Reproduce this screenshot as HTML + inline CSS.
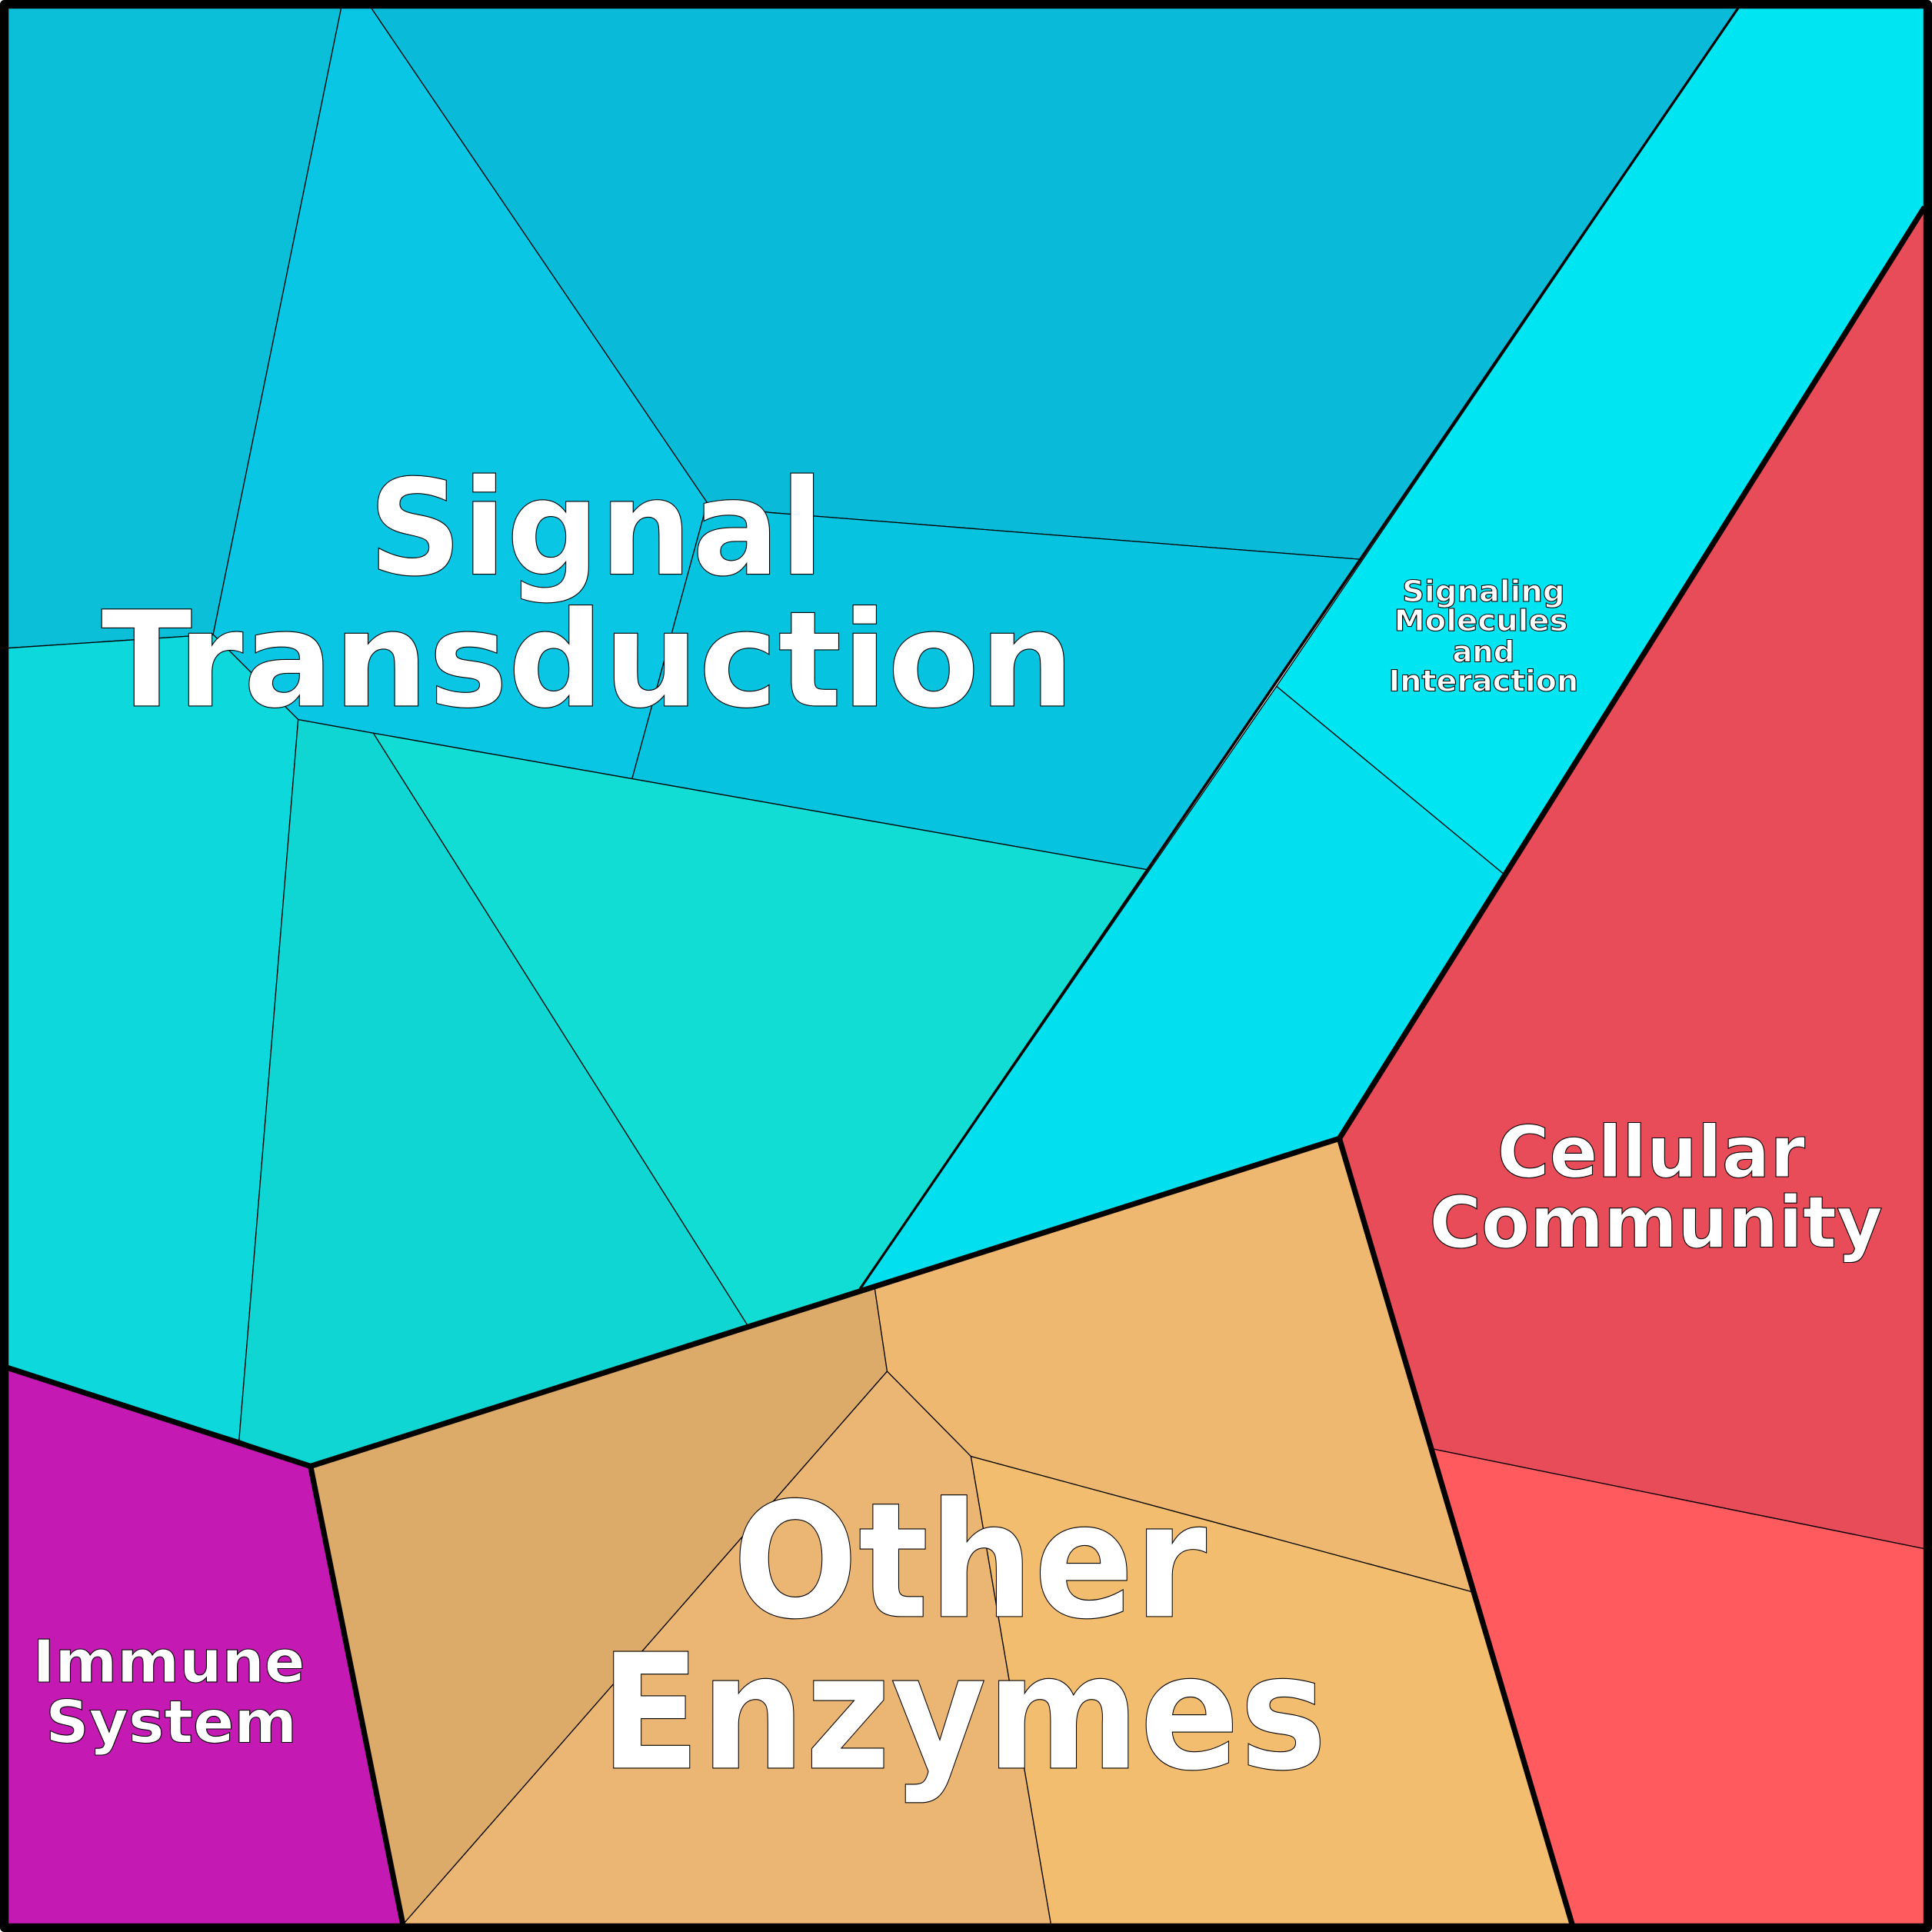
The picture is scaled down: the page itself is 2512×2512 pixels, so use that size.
<!DOCTYPE html>
<html><head><meta charset="utf-8"><style>html,body{margin:0;padding:0;background:#fff}svg{display:block}</style></head>
<body>
<svg width="2512" height="2512" viewBox="0 0 1568 1568" xmlns="http://www.w3.org/2000/svg">
<g stroke="#000" stroke-width="0.8" stroke-linejoin="round">
<polygon fill="#0cbfd8" points="6,6 277,6 173,515 6,526"/>
<polygon fill="#0ac6e5" points="277,6 301,6 574,408 513,632 303,595 242,584 173,515"/>
<polygon fill="#0abbd9" points="301,6 1411,6 1105,454 625,416 574,408"/>
<polygon fill="#06c3df" points="574,408 625,416 1105,454 932,706 513,632"/>
<polygon fill="#0dd8dc" points="6,526 173,515 242,584 194,1169 6,1110"/>
<polygon fill="#0fd6d3" points="242,584 303,595 607,1076 252,1190 194,1169"/>
<polygon fill="#12ddd5" points="303,595 932,706 698,1046 607,1076"/>
<polygon fill="#00e5f2" points="1411,6 1562,6 1562,168 1220,709 1036,557"/>
<polygon fill="#02e0ef" points="1036,557 1220,709 1087,924 698,1046"/>
<polygon fill="#e84c58" points="1562,168 1562,1257 1163,1176 1087,924"/>
<polygon fill="#ff5a5e" points="1163,1176 1562,1257 1562,1562 1276,1562"/>
<polygon fill="#c41ab3" points="6,1110 252,1190 327,1562 6,1562"/>
<polygon fill="#dcab6a" points="252,1190 710,1046 720,1113 327,1562"/>
<polygon fill="#efb870" points="710,1046 1087,924 1195,1292 788,1182 720,1113"/>
<polygon fill="#ebb573" points="720,1113 788,1182 853,1562 327,1562"/>
<polygon fill="#f2bd6f" points="788,1182 1195,1292 1276,1562 853,1562"/>
</g>
<g fill="none" stroke="#000" stroke-linejoin="round">
<polyline stroke-width="2" points="1411,6 698,1046"/>
<polyline stroke-width="4.5" points="6,1110 252,1190 1087,924 1562,168"/>
<polyline stroke-width="4.5" points="252,1190 327,1562"/>
<polyline stroke-width="4.5" points="1087,924 1276,1562"/>
<rect x="3.5" y="3.5" width="1561" height="1561" stroke-width="7"/>
</g>
<g font-family="'DejaVu Sans','Liberation Sans',sans-serif" font-weight="bold" fill="#fff" stroke="#000" stroke-width="0.7" text-anchor="middle">
<text x="484" y="466" font-size="108" textLength="370" lengthAdjust="spacingAndGlyphs">Signal</text>
<text x="477" y="573" font-size="108" textLength="790" lengthAdjust="spacingAndGlyphs">Transduction</text>
<text x="787" y="1312" font-size="130" textLength="385" lengthAdjust="spacingAndGlyphs">Other</text>
<text x="782" y="1435" font-size="130" textLength="590" lengthAdjust="spacingAndGlyphs">Enzymes</text>
<text x="1340" y="955" font-size="58" textLength="250" lengthAdjust="spacingAndGlyphs">Cellular</text>
<text x="1344" y="1012" font-size="58" textLength="368" lengthAdjust="spacingAndGlyphs">Community</text>
<text x="137" y="1365" font-size="48" textLength="221" lengthAdjust="spacingAndGlyphs">Immune</text>
<text x="139" y="1414" font-size="48" textLength="204" lengthAdjust="spacingAndGlyphs">System</text>
<text x="1204" y="488" font-size="24" textLength="132" lengthAdjust="spacingAndGlyphs">Signaling</text>
<text x="1202" y="512" font-size="24" textLength="141" lengthAdjust="spacingAndGlyphs">Molecules</text>
<text x="1204" y="537" font-size="24">and</text>
<text x="1204" y="561" font-size="24" textLength="154" lengthAdjust="spacingAndGlyphs">Interaction</text>
</g>
</svg>
</body></html>
